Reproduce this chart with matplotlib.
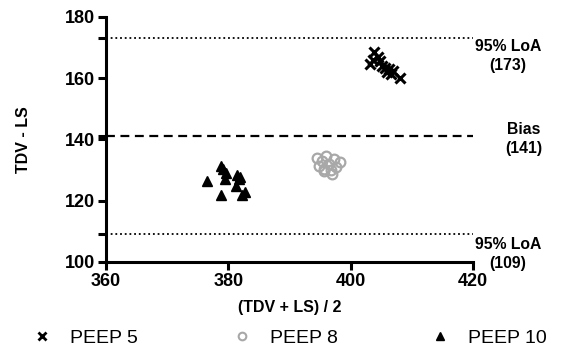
import matplotlib
matplotlib.use("Agg")
import matplotlib.pyplot as plt
from matplotlib.lines import Line2D

plt.rcParams['font.family'] = ['Liberation Sans', 'DejaVu Sans']

# Data
peep5_x = [403.2, 403.6, 403.8, 404.4, 404.8, 405.2, 405.6, 405.9, 406.3, 406.6, 407.0, 408.0]
peep5_y = [164.5, 166.0, 168.5, 167.0, 165.5, 164.0, 163.5, 162.0, 163.0, 161.5, 162.5, 160.0]
peep8_x = [394.5, 394.9, 395.3, 395.7, 396.0, 396.4, 396.8, 397.2, 397.6, 398.2, 395.6, 396.9]
peep8_y = [134.0, 131.5, 133.0, 130.5, 134.5, 132.0, 130.0, 133.5, 131.0, 132.5, 129.8, 128.8]
peep10_x = [376.5, 378.8, 379.1, 379.6, 379.4, 378.8, 381.4, 381.7, 381.9, 381.2, 382.2, 382.7]
peep10_y = [126.5, 131.5, 130.5, 129.0, 127.0, 122.0, 128.5, 127.0, 127.8, 124.8, 121.8, 123.0]

bias = 141
loa_upper = 173
loa_lower = 109
x_ticks = [360, 380, 400, 420]
y_ticks = [100, 120, 140, 160, 180]
legend_labels = ["PEEP 5", "PEEP 8", "PEEP 10"]

W, H = 561, 354
fig = plt.figure(figsize=(W / 100, H / 100), dpi=100)
ax = fig.add_axes([0.189, 0.260, 0.654, 0.692])

ax.axhline(loa_upper, color='black', linestyle=(0, (1, 1.6)), linewidth=1.3)
ax.axhline(loa_lower, color='black', linestyle=(0, (1, 1.6)), linewidth=1.3)
ax.axhline(bias, color='black', linestyle=(0, (4, 2.5)), linewidth=1.6)

ax.plot(peep5_x, peep5_y, linestyle='none', marker='x', markersize=7,
        markeredgewidth=2.2, color='black', clip_on=False)
ax.plot(peep8_x, peep8_y, linestyle='none', marker='o', markersize=7,
        markerfacecolor='none', markeredgewidth=1.6, markeredgecolor='#a8a8a8')
ax.plot(peep10_x, peep10_y, linestyle='none', marker='^', markersize=6.5,
        color='black')

ax.set_xlim(360, 420)
ax.set_ylim(100, 180)
ax.set_xticks(x_ticks)
ax.set_yticks(y_ticks)
ax.set_yticks([loa_lower, bias, loa_upper], minor=True)
ax.tick_params(which='both', direction='out', length=6, width=2.2)
ax.tick_params(labelsize=13, pad=2)
for lab in ax.get_xticklabels() + ax.get_yticklabels():
    lab.set_fontweight('bold')
for s in ['top', 'right']:
    ax.spines[s].set_visible(False)
for s in ['left', 'bottom']:
    ax.spines[s].set_linewidth(2.2)

ax.set_xlabel("(TDV + LS) / 2", fontsize=11.5, fontweight='bold', labelpad=7)
ax.set_ylabel("TDV - LS", fontsize=11.5, fontweight='bold', labelpad=24)

tkw = dict(fontsize=11.3, fontweight='bold', ha='right', va='center',
           multialignment='center', transform=fig.transFigure, linespacing=1.3)
fig.text(541 / W, 1 - 56 / H, "95% LoA\n(173)", **tkw)
fig.text(542 / W, 1 - 139 / H, "Bias\n(141)", **tkw)
fig.text(541 / W, 1 - 254 / H, "95% LoA\n(109)", **tkw)

handles = [
    Line2D([], [], linestyle='none', marker='x', markersize=6, markeredgewidth=2, color='black'),
    Line2D([], [], linestyle='none', marker='o', markersize=5.5, markerfacecolor='none',
           markeredgewidth=1.5, markeredgecolor='#a8a8a8'),
    Line2D([], [], linestyle='none', marker='^', markersize=6, color='black'),
]
starts = [34, 234, 432]
for h, lab, xs in zip(handles, legend_labels, starts):
    fig.legend([h], [lab], loc='center left', bbox_to_anchor=(xs / W, 1 - 338 / H),
               frameon=False, fontsize=14, handlelength=0.8, handletextpad=1.05,
               borderpad=0, borderaxespad=0)

fig.savefig("out.png", dpi=100)
